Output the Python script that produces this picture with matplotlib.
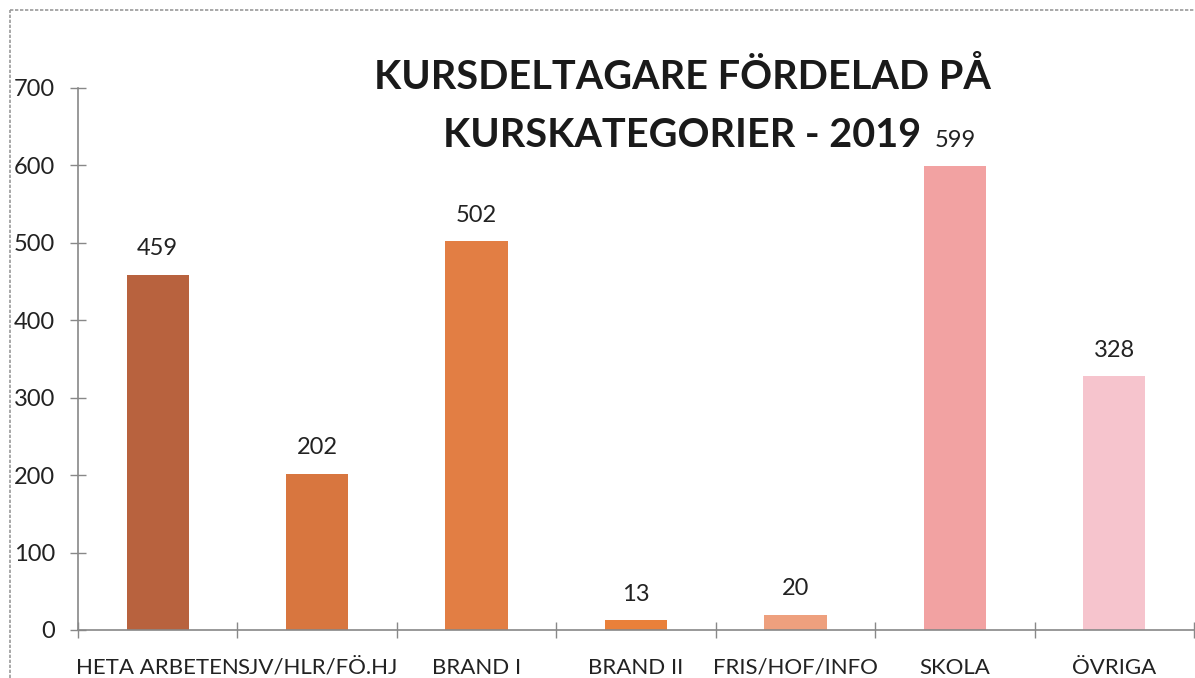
import matplotlib
matplotlib.use("Agg")
import matplotlib.pyplot as plt
import numpy as np

categories = ["HETA ARBETEN", "SJV/HLR/FÖ.HJ", "BRAND I", "BRAND II",
              "FRIS/HOF/INFO", "SKOLA", "ÖVRIGA"]
values = [459, 202, 502, 13, 20, 599, 328]
colors = ["#b8623e", "#d8763f", "#e27e44", "#e9803a", "#eea07e", "#f2a2a2", "#f6c4cd"]
yticks = [0, 100, 200, 300, 400, 500, 600, 700]
title_lines = ["KURSDELTAGARE FÖRDELAD PÅ", "KURSKATEGORIER - 2019"]

plt.rcParams['font.family'] = ['Lato', 'DejaVu Sans']

fig = plt.figure(figsize=(11.95, 6.78), dpi=100)
W, H = 1195, 678
ax = fig.add_axes([78 / W, (H - 630) / H, (1194 - 78) / W, (630 - 88) / H])

x = np.arange(len(categories))
bars = ax.bar(x, values, width=0.39, color=colors, zorder=2)
for xi, v in zip(x, values):
    ax.annotate(str(v), (xi, v), xytext=(0, 11), textcoords="offset points",
                ha="center", va="bottom", fontsize=17, color="#222222")

ax.set_xlim(-0.5, len(categories) - 0.5)
ax.set_ylim(0, 700)
ax.set_yticks(yticks)
ax.tick_params(axis='y', labelsize=17, direction='inout', length=11, width=1,
               color="#888888", labelcolor="#222222", pad=11)
ax.set_xticks(x)
ax.set_xticklabels(categories, fontsize=16, color="#222222")
ax.tick_params(axis='x', which='major', length=0, pad=20)
ax.set_xticks(np.arange(-0.5, len(categories)), minor=True)
ax.tick_params(axis='x', which='minor', direction='inout', length=11, width=1, color="#888888")

for s in ['top', 'right']:
    ax.spines[s].set_visible(False)
for s in ['left', 'bottom']:
    ax.spines[s].set_color("#888888")
    ax.spines[s].set_linewidth(1.2)

for line, base in zip(title_lines, [89, 147]):
    fig.text(682 / W, 1 - base / H, line, ha="center", va="baseline", fontsize=28.5,
             fontweight="bold", color="#1a1a1a")

# outer chart border (partially visible in scan)
fig.add_artist(plt.Line2D([10 / W, 10 / W], [0, 1 - 10 / H], transform=fig.transFigure,
                          color="#999999", lw=1.2, ls=(0, (2, 1))))
fig.add_artist(plt.Line2D([10 / W, 1], [1 - 10 / H, 1 - 10 / H], transform=fig.transFigure,
                          color="#999999", lw=1.2, ls=(0, (2, 1))))

fig.savefig("out.png", dpi=100)
